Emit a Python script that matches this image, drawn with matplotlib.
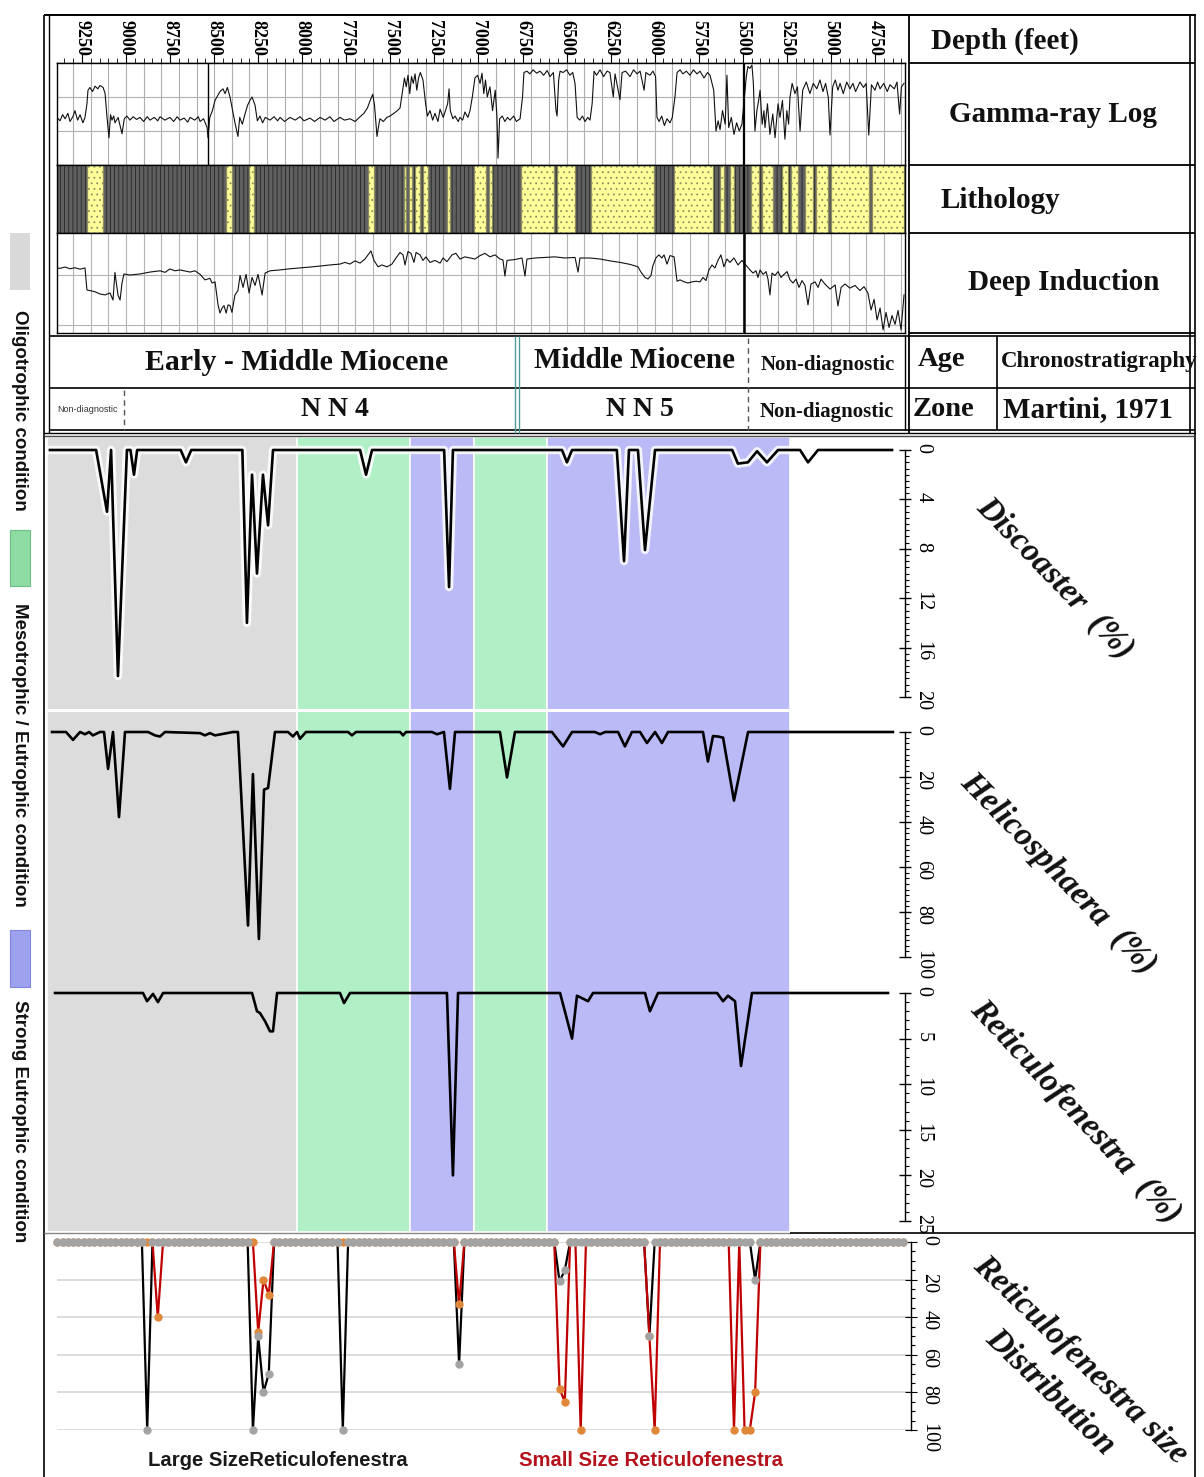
import numpy as np
import matplotlib
matplotlib.use("Agg")
import matplotlib.pyplot as plt
from matplotlib import font_manager as fm
from matplotlib.ticker import MultipleLocator, LogLocator, NullFormatter
from matplotlib.patches import Rectangle

# ---------------------------------------------------------------- data
depth_ticks = [9250, 9000, 8750, 8500, 8250, 8000, 7750, 7500, 7250, 7000,
               6750, 6500, 6250, 6000, 5750, 5500, 5250, 5000, 4750]

# gamma-ray log (depth ft, API)
gamma_log = [
    (9392, 80), (9375, 85), (9360, 76), (9346, 82), (9330, 74), (9318, 86), (9300, 78), (9290, 70),
    (9275, 84), (9261, 76), (9245, 88), (9233, 80), (9222, 60), (9216, 40), (9205, 36), (9190, 42),
    (9176, 34), (9160, 38), (9148, 33), (9130, 36), (9119, 45), (9108, 80), (9097, 110), (9088, 76),
    (9080, 84), (9070, 78), (9063, 88), (9045, 80), (9023, 104), (9010, 82), (8995, 78), (8978, 84),
    (8960, 79), (8940, 83), (8921, 80), (8900, 86), (8880, 79), (8864, 84), (8840, 80), (8820, 85),
    (8807, 79), (8780, 84), (8751, 80), (8730, 86), (8710, 79), (8694, 84), (8670, 81), (8650, 87),
    (8637, 80), (8610, 84), (8590, 79), (8580, 86), (8560, 82), (8540, 95), (8535, 110), (8525, 80),
    (8510, 70), (8495, 55), (8480, 48), (8467, 42), (8450, 38), (8438, 45), (8425, 36), (8410, 50),
    (8395, 70), (8382, 88), (8365, 108), (8355, 80), (8340, 90), (8325, 75), (8310, 62), (8297, 55),
    (8285, 50), (8268, 62), (8255, 85), (8240, 78), (8225, 88), (8210, 80), (8183, 84), (8160, 79),
    (8140, 85), (8126, 80), (8100, 86), (8070, 80), (8040, 84), (8013, 79), (7990, 85), (7956, 81),
    (7930, 86), (7899, 80), (7870, 84), (7843, 79), (7820, 86), (7786, 80), (7760, 84), (7729, 82),
    (7700, 86), (7672, 79), (7650, 74), (7630, 66), (7616, 56), (7600, 46), (7590, 62), (7576, 108),
    (7565, 90), (7559, 82), (7540, 86), (7520, 80), (7502, 78), (7480, 74), (7460, 70), (7445, 66),
    (7430, 40), (7420, 22), (7410, 35), (7400, 18), (7390, 45), (7380, 20), (7370, 30), (7360, 16),
    (7350, 40), (7340, 22), (7330, 14), (7315, 25), (7300, 60), (7290, 78), (7275, 70), (7260, 84),
    (7247, 74), (7230, 86), (7218, 68), (7200, 80), (7190, 72), (7175, 60), (7167, 38), (7160, 70),
    (7145, 82), (7133, 78), (7115, 86), (7105, 80), (7090, 84), (7077, 72), (7060, 80), (7048, 70),
    (7035, 50), (7020, 22), (7005, 18), (6991, 30), (6980, 15), (6970, 45), (6960, 25), (6950, 50),
    (6935, 35), (6920, 70), (6905, 40), (6895, 80), (6889, 140), (6880, 82), (6865, 78), (6850, 86),
    (6835, 80), (6821, 84), (6800, 78), (6785, 86), (6764, 82), (6750, 50), (6742, 14), (6725, 12),
    (6708, 16), (6690, 10), (6670, 15), (6651, 12), (6630, 18), (6610, 11), (6594, 20), (6575, 14),
    (6560, 70), (6554, 78), (6545, 25), (6537, 12), (6520, 14), (6500, 10), (6481, 18), (6465, 14),
    (6452, 30), (6440, 80), (6425, 84), (6410, 78), (6395, 86), (6380, 80), (6367, 84), (6355, 60),
    (6344, 12), (6330, 18), (6310, 10), (6290, 20), (6270, 12), (6254, 14), (6235, 50), (6225, 16),
    (6197, 54), (6185, 14), (6165, 12), (6140, 20), (6120, 10), (6100, 16), (6083, 12), (6060, 40),
    (6050, 14), (6027, 18), (6010, 12), (5995, 20), (5987, 80), (5975, 86), (5960, 78), (5945, 92),
    (5930, 82), (5913, 88), (5900, 80), (5885, 50), (5873, 14), (5856, 10), (5840, 16), (5820, 12),
    (5800, 18), (5780, 10), (5760, 16), (5743, 12), (5720, 22), (5700, 14), (5686, 18), (5665, 40),
    (5652, 100), (5640, 85), (5629, 98), (5615, 70), (5600, 90), (5590, 18), (5580, 95), (5565, 80),
    (5550, 105), (5535, 88), (5520, 100), (5505, 90), (5480, 20), (5471, 5), (5460, 8), (5448, 3),
    (5440, 30), (5431, 100), (5420, 70), (5410, 55), (5402, 40), (5390, 90), (5380, 70), (5374, 95),
    (5360, 60), (5346, 105), (5330, 75), (5317, 110), (5300, 60), (5289, 80), (5275, 55), (5261, 112),
    (5250, 70), (5240, 90), (5232, 50), (5220, 30), (5204, 45), (5190, 35), (5175, 100), (5160, 40),
    (5140, 28), (5119, 45), (5100, 30), (5080, 38), (5062, 25), (5045, 42), (5030, 30), (5015, 50),
    (5005, 106), (4990, 35), (4975, 25), (4960, 40), (4948, 30), (4930, 45), (4910, 28), (4892, 38),
    (4875, 30), (4860, 42), (4835, 28), (4815, 36), (4800, 30), (4785, 106), (4770, 32), (4750, 40),
    (4735, 28), (4721, 38), (4700, 30), (4680, 42), (4665, 32), (4640, 38), (4625, 28), (4610, 75),
    (4600, 35), (4585, 30)]

# lithology: sand beds (top/base depth, ft); the rest is shale
sand_top = [9222, 8434, 8303, 7629, 7425, 7396, 7362, 7317, 7181, 7028, 6943, 6756, 6552,
            6359, 5888, 5628, 5571, 5452, 5389, 5276, 5225, 5146, 5083, 4998, 4766]
sand_base = [9131, 8400, 8275, 7595, 7413, 7379, 7334, 7289, 7164, 6960, 6926, 6569, 6450,
             6002, 5667, 5605, 5548, 5406, 5327, 5242, 5185, 5100, 5015, 4783, 4584]

# deep induction (depth ft, ohm.m)
induction_log = [
    (9392, 0.2), (9390, 5.0), (9375, 5.2), (9346, 4.6), (9318, 5.4), (9290, 4.9), (9261, 5.6), (9233, 5.0),
    (9222, 38), (9205, 40), (9176, 45), (9148, 55), (9119, 60), (9091, 50), (9074, 96), (9063, 7.5),
    (9046, 60), (9034, 96), (9023, 20), (9012, 8.7), (8978, 9.6), (8921, 8.7), (8864, 7.3), (8807, 6.5),
    (8779, 7.5), (8751, 5.5), (8722, 6.5), (8694, 6.0), (8637, 7.3), (8609, 6.5), (8580, 9.0), (8552, 15),
    (8524, 13), (8512, 20), (8495, 18), (8478, 150), (8467, 317), (8455, 200), (8444, 160), (8432, 320),
    (8421, 150), (8410, 160), (8399, 300), (8382, 60), (8365, 40), (8353, 10), (8336, 30), (8319, 9),
    (8302, 50), (8285, 12), (8268, 25), (8251, 9), (8228, 60), (8211, 8), (8183, 6.5), (8126, 6.0),
    (8070, 5.4), (8013, 5.0), (7956, 4.6), (7899, 4.2), (7843, 3.8), (7786, 3.5), (7758, 3.0), (7729, 3.5),
    (7701, 2.6), (7672, 3.2), (7644, 2.2), (7627, 1.5), (7610, 1.05), (7593, 2.5), (7570, 4.5), (7548, 3.8),
    (7519, 4.5), (7491, 3.5), (7468, 2.0), (7445, 1.2), (7428, 1.5), (7417, 3.8), (7400, 1.1), (7383, 1.3),
    (7366, 3.0), (7354, 1.2), (7332, 1.5), (7315, 2.5), (7298, 1.8), (7275, 3.0), (7247, 2.5), (7218, 3.2),
    (7201, 2.0), (7179, 2.8), (7150, 1.5), (7128, 1.3), (7105, 2.2), (7077, 1.8), (7048, 2.0), (7020, 2.2),
    (6991, 1.6), (6963, 1.3), (6935, 1.8), (6906, 1.5), (6878, 2.2), (6861, 2.4), (6850, 10.5), (6838, 2.5),
    (6793, 2.3), (6753, 2.0), (6736, 10.5), (6725, 2.2), (6679, 2.0), (6623, 1.9), (6566, 1.8), (6509, 2.0),
    (6452, 1.9), (6435, 7.3), (6424, 2.0), (6367, 2.0), (6310, 2.2), (6254, 2.6), (6197, 3.0), (6140, 3.6),
    (6095, 4.5), (6078, 7.3), (6055, 12), (6038, 13.8), (6021, 10), (6010, 4), (5993, 2.0), (5976, 1.5),
    (5959, 2.0), (5947, 1.5), (5930, 3.5), (5913, 1.6), (5890, 1.8), (5873, 17), (5856, 15), (5833, 18),
    (5811, 20), (5788, 18), (5765, 17), (5743, 18), (5726, 12), (5709, 16), (5692, 6), (5675, 3.8),
    (5658, 5), (5641, 2.5), (5624, 1.5), (5607, 4.5), (5590, 2.2), (5573, 3.0), (5550, 2.0), (5527, 3.8),
    (5505, 2.5), (5459, 6.0), (5442, 8), (5425, 6.5), (5414, 12), (5402, 6.0), (5385, 9), (5368, 7),
    (5357, 14), (5346, 60), (5334, 8), (5317, 10), (5300, 7), (5283, 12), (5266, 9), (5249, 7),
    (5232, 15), (5215, 20), (5198, 14), (5181, 30), (5164, 16), (5147, 25), (5130, 150), (5113, 22),
    (5090, 18), (5073, 30), (5056, 14), (5034, 22), (5005, 35), (4976, 24), (4960, 166), (4942, 30),
    (4920, 22), (4892, 32), (4863, 25), (4835, 40), (4812, 28), (4790, 50), (4772, 240), (4755, 90),
    (4738, 600), (4721, 200), (4704, 1500), (4687, 300), (4670, 1200), (4653, 400), (4636, 900),
    (4619, 250), (4602, 1500), (4585, 60)]

# palaeo-environment intervals (depth ft)
cond_top = [9449, 8030, 7389, 7025, 6611]
cond_base = [8030, 7389, 7025, 6611, 5232]
cond_kind = ["oligo", "meso", "strong", "meso", "strong"]

# nannofossil abundance curves (depth ft, %)
discoaster = [
    (9432, 0), (9170, 0), (9108, 5.0), (9085, 0), (9046, 18.3), (8995, 0), (8975, 0), (8955, 2.0),
    (8937, 0), (8690, 0), (8660, 1.0), (8630, 0), (8340, 0), (8314, 14.0), (8285, 2.0), (8257, 10.0),
    (8223, 2.0), (8194, 6.1), (8166, 0), (7672, 0), (7638, 2.0), (7604, 0), (7195, 0), (7167, 11.1),
    (7145, 0), (6526, 0), (6498, 1.0), (6469, 0), (6215, 0), (6174, 9.0), (6146, 0), (6095, 0),
    (6055, 8.1), (5998, 0), (5560, 0), (5528, 1.1), (5471, 1.0), (5419, 0.1), (5363, 1.0), (5300, 0),
    (5175, 0), (5130, 1.0), (5073, 0), (4653, 0)]

helicosphaera = [
    (9420, 0), (9341, 0), (9301, 3.5), (9261, 0), (9233, 1.0), (9210, 0), (9188, 1.5), (9148, 0),
    (9125, 0), (9102, 16.4), (9074, 0), (9040, 37.8), (9006, 0), (8875, 0), (8836, 1.5), (8807, 2.0),
    (8779, 0), (8580, 0.5), (8552, 1.5), (8524, 0.5), (8495, 1.5), (8393, 0), (8365, 0), (8308, 86),
    (8280, 18.7), (8246, 92), (8217, 25.6), (8194, 24.9), (8155, 0), (8081, 0), (8053, 2.0), (8030, 0),
    (8013, 3.0), (7979, 0), (7740, 0), (7718, 1.5), (7695, 0), (7445, 0), (7428, 1.5), (7411, 0),
    (7264, 0), (7235, 1.0), (7196, 0), (7162, 25.3), (7133, 0), (6878, 0), (6838, 20.2), (6793, 0),
    (6583, 0), (6520, 6.4), (6469, 0), (6339, 0), (6310, 1.0), (6282, 0), (6208, 0), (6169, 6.4),
    (6129, 0), (6083, 0), (6044, 4.9), (5998, 0), (5959, 4.9), (5924, 0), (5726, 0), (5698, 13.1),
    (5669, 1.8), (5641, 2.0), (5612, 2.5), (5550, 30.5), (5470, 0), (4648, 0)]

reticulofenestra = [
    (9403, 0), (8904, 0), (8881, 0.9), (8847, 0.1), (8819, 1.0), (8790, 0), (8285, 0), (8257, 2.0),
    (8240, 2.2), (8211, 3.1), (8183, 4.2), (8166, 4.2), (8143, 0), (7786, 0), (7763, 1.1), (7729, 0),
    (7179, 0), (7145, 20.0), (7116, 0), (6537, 0), (6469, 5.0), (6441, 0.3), (6378, 0.9), (6350, 0),
    (6055, 0), (6027, 2.0), (5981, 0), (5646, 0), (5612, 0.9), (5584, 0.3), (5544, 0.9), (5510, 8.0),
    (5448, 0), (4676, 0)]

# Reticulofenestra size distribution (samples every 30 ft; non-zero %)
size_samples = np.arange(9390, 4560, -30)
large_size_nonzero = {8880: 100, 8280: 100, 8250: 50, 8220: 80, 8190: 70, 7770: 100, 7110: 65,
                      6540: 21, 6510: 15, 6030: 50, 5430: 20}
small_size_nonzero = {8820: 40, 8250: 48, 8220: 20, 8190: 28, 7110: 33, 6540: 78, 6510: 85,
                      6420: 100, 6030: 50, 6000: 100, 5550: 100, 5490: 100, 5460: 100, 5430: 80}

# ---------------------------------------------------------------- style
names = {f.name for f in fm.fontManager.ttflist}
SERIF = "Liberation Serif"
SANS = "Liberation Sans"
NARROW = "Liberation Sans Narrow" if "Liberation Sans Narrow" in names else "Liberation Sans"
plt.rcParams["hatch.linewidth"] = 0.6
plt.rcParams["axes.linewidth"] = 1.0

C_GRAY, C_GREEN, C_BLUE = "#dcdcdc", "#b1f0c6", "#babaf7"
cond_color = {"oligo": C_GRAY, "meso": C_GREEN, "strong": C_BLUE}

W, H = 1204, 1477
fig = plt.figure(figsize=(W / 100, H / 100), dpi=100)
fig.patch.set_facecolor("white")


def D(x):
    """pixel column -> depth (ft) of the common depth scale"""
    return 9250 - (x - 82) * 5.675


def add_ax(x0, y0, x1, y1, z=1):
    ax = fig.add_axes([x0 / W, 1 - y1 / H, (x1 - x0) / W, (y1 - y0) / H], zorder=z)
    ax.set_xlim(D(x0), D(x1))
    return ax


def clean(ax):
    ax.tick_params(length=0, labelbottom=False, labelleft=False)


# ---------------- depth header
axh = add_ax(57, 15, 905, 63)
for s in ["top", "left", "right"]:
    axh.spines[s].set_visible(False)
axh.set_yticks([])
axh.xaxis.set_major_locator(MultipleLocator(250))
axh.xaxis.set_minor_locator(MultipleLocator(50))
axh.tick_params(axis="x", which="major", direction="in", length=7, labelbottom=False)
axh.tick_params(axis="x", which="minor", direction="in", length=3.5)
for d in depth_ticks:
    axh.text(d, 0.9, f"{d}", transform=axh.get_xaxis_transform(), rotation=270,
             ha="center", va="top", fontsize=13, fontfamily=SERIF, fontweight="bold")

# ---------------- gamma ray
axg = add_ax(57, 63, 905, 165)
gd, gv = zip(*gamma_log)
axg.plot(gd, gv, color="#111111", lw=0.8)
axg.set_ylim(150, 0)
axg.set_yticks([50, 100])
axg.xaxis.set_major_locator(MultipleLocator(100))
axg.grid(True, color="#b0b0b0", lw=0.8)
axg.axvline(8535, color="black", lw=1.0)
axg.axvline(5495, color="black", lw=1.6)
clean(axg)

# ---------------- lithology
axl = add_ax(57, 165, 905, 233)
axl.axvspan(D(57), D(905), facecolor="#606060", edgecolor="#262626", hatch="||||", lw=0)
for t, b in zip(sand_top, sand_base):
    axl.axvspan(t, b, facecolor="#ffff99", edgecolor="#8c8c60", hatch="...", lw=0.9)
axl.axvline(5495, color="black", lw=1.6)
axl.set_yticks([])
clean(axl)

# ---------------- deep induction
axi = add_ax(57, 233, 905, 333)
axi.set_yscale("log")
idp, ivl = zip(*induction_log)
axi.plot(idp, ivl, color="#111111", lw=0.8)
axi.set_ylim(2000, 0.2)
axi.yaxis.set_minor_locator(LogLocator(subs=range(2, 10)))
axi.yaxis.set_minor_formatter(NullFormatter())
axi.xaxis.set_major_locator(MultipleLocator(100))
axi.grid(True, which="both", color="#b4b4b4", lw=0.8)
axi.axvline(5495, color="black", lw=1.8)
axi.tick_params(which="both", length=0, labelbottom=False, labelleft=False)

# ---------------- lower background (environment shading)
axb = add_ax(47, 437, 905, 1232, z=0)
axb.set_ylim(1232, 437)
for t, b, k in zip(cond_top, cond_base, cond_kind):
    axb.axvspan(t, b, facecolor=cond_color[k], edgecolor="white", lw=1.2)
axb.hlines(710, cond_top[0], cond_base[-1], color="white", lw=2.2)
axb.axis("off")


def curve_axis(y0, y1, top, major, minor, data, halo=False, x1=905):
    ax = add_ax(47, y0, x1, y1, z=2)
    ax.patch.set_alpha(0)
    for s in ["top", "left", "bottom"]:
        ax.spines[s].set_visible(False)
    ax.set_ylim(top, 0)
    ax.set_xticks([])
    ax.yaxis.tick_right()
    ax.yaxis.set_major_locator(MultipleLocator(major))
    ax.yaxis.set_minor_locator(MultipleLocator(minor))
    ax.tick_params(axis="y", which="major", direction="inout", length=8, width=1,
                   labelsize=14.5, pad=2, labelrotation=270)
    ax.tick_params(axis="y", which="minor", direction="out", length=3, width=0.8)
    for lb in ax.get_yticklabels():
        lb.set_fontfamily(SERIF)
    if data is not None:
        d, v = zip(*data)
        if halo:
            ax.plot(d, v, color="white", lw=6, alpha=0.85, clip_on=False, zorder=2,
                    solid_joinstyle="round")
        ax.plot(d, v, color="black", lw=1.9, clip_on=False, zorder=3)
    return ax


curve_axis(450, 697, 20, 4, 0.5, discoaster, halo=True)
curve_axis(732, 957, 100, 20, 2.5, helicosphaera)
curve_axis(993, 1221, 25, 5, 1, reticulofenestra)

# ---------------- size distribution
axs = add_ax(57, 1242, 911, 1430, z=2)
axs.patch.set_alpha(0)
for s in ["top", "left", "bottom"]:
    axs.spines[s].set_visible(False)
axs.set_ylim(100, 0)
axs.set_xticks([])
axs.yaxis.tick_right()
axs.yaxis.set_major_locator(MultipleLocator(20))
axs.yaxis.set_minor_locator(MultipleLocator(5))
axs.tick_params(axis="y", which="major", direction="inout", length=8, labelsize=14.5, pad=2,
                labelrotation=270)
axs.tick_params(axis="y", which="minor", direction="out", length=3, width=0.8)
for lb in axs.get_yticklabels():
    lb.set_fontfamily(SERIF)
axs.yaxis.grid(True, color="#d9d9d9", lw=1.3)
large = [large_size_nonzero.get(int(d), 0) for d in size_samples]
small = [small_size_nonzero.get(int(d), 0) for d in size_samples]
axs.plot(size_samples, large, color="black", lw=1.6, zorder=3, clip_on=False)
axs.plot(size_samples, small, color="#c00000", lw=1.6, zorder=4, clip_on=False)
axs.plot(size_samples, small, ls="none", marker="o", ms=5, color="#e0883a", zorder=5, clip_on=False)
axs.plot(size_samples, large, ls="none", marker="o", ms=5, color="#a3a3a3", zorder=6, clip_on=False)

# ---------------- overlay: frames and texts (pixel coordinates)
ov = fig.add_axes([0, 0, 1, 1], zorder=20)
ov.set_xlim(0, W)
ov.set_ylim(H, 0)
ov.axis("off")
ov.patch.set_alpha(0)


def hl(y, x0, x1, c="black", lw=1.2, **kw):
    ov.plot([x0, x1], [y, y], color=c, lw=lw, solid_capstyle="butt", **kw)


def vl(x, y0, y1, c="black", lw=1.2, **kw):
    ov.plot([x, x], [y0, y1], color=c, lw=lw, solid_capstyle="butt", **kw)


hl(15, 44, 1196, lw=1.4)
vl(44, 15, 1477, lw=1.2)
vl(49, 15, 433, lw=1.0)
vl(909, 15, 433, lw=1.3)
vl(1190, 15, 433, lw=1.2)
vl(1195, 15, 1477, lw=1.2)
for y in (63, 165, 233, 333):
    hl(y, 909, 1195, lw=1.3)
hl(336, 49, 1195, lw=1.2)
hl(388, 49, 1195, lw=1.2)
hl(430, 49, 1195, lw=1.2)
hl(433, 44, 1195, lw=1.0)
vl(997, 336, 430, lw=1.2)
vl(905, 336, 430, lw=1.0)
hl(436, 44, 1195, c="#444444", lw=1.0)
hl(1233, 44, 790, c="#888888", lw=1.0)
hl(1233, 790, 1195, c="black", lw=1.2)
# zone boundaries in age / zone rows
vl(124, 390, 430, c="#555555", lw=1.0, ls=(0, (4, 3)))
vl(748, 338, 430, c="#555555", lw=1.0, ls=(0, (4, 3)))
vl(515, 336, 433, c="#4f9a9a", lw=1.0)
vl(519, 336, 433, c="#4f9a9a", lw=1.0)

serif_b = dict(fontfamily=SERIF, fontweight="bold", color="#111111")
ov.text(1005, 41, "Depth (feet)", ha="center", va="center", fontsize=21, **serif_b)
ov.text(1053, 115, "Gamma-ray Log", ha="center", va="center", fontsize=21, **serif_b)
ov.text(1000, 201, "Lithology", ha="center", va="center", fontsize=21, **serif_b)
ov.text(1064, 283, "Deep Induction", ha="center", va="center", fontsize=21, **serif_b)

ov.text(297, 362, "Early - Middle Miocene", ha="center", va="center", fontsize=21.5, **serif_b)
ov.text(634, 361, "Middle Miocene", ha="center", va="center", fontsize=21, **serif_b)
ov.text(828, 365, "Non-diagnostic", ha="center", va="center", fontsize=15, **serif_b)
ov.text(942, 360, "Age", ha="center", va="center", fontsize=20.5, **serif_b)
ov.text(1001, 361, "Chronostratigraphy", ha="left", va="center", fontsize=16.5, **serif_b)
ov.text(335, 410, "N N 4", ha="center", va="center", fontsize=20, **serif_b)
ov.text(640, 409, "N N 5", ha="center", va="center", fontsize=20, **serif_b)
ov.text(827, 412, "Non-diagnostic", ha="center", va="center", fontsize=15, **serif_b)
ov.text(944, 409, "Zone", ha="center", va="center", fontsize=20.5, **serif_b)
ov.text(1003, 410, "Martini, 1971", ha="left", va="center", fontsize=21, **serif_b)
ov.text(88, 410, "Non-diagnostic", ha="center", va="center", fontsize=6.5,
        fontfamily=SANS, color="#333333")

# diagonal panel titles
title_kw = dict(fontfamily=SERIF, fontweight="bold", fontstyle="italic", color="#111111",
                ha="center", va="center", rotation_mode="anchor")
ov.text(1055, 578, "Discoaster  (%)", rotation=-46, fontsize=24, **title_kw)
ov.text(1058, 873, "Helicosphaera  (%)", rotation=-46, fontsize=24, **title_kw)
ov.text(1076, 1112, "Reticulofenestra  (%)", rotation=-47, fontsize=24, **title_kw)
ov.text(1080, 1360, "Reticulofenestra size", rotation=-44, fontsize=24, **title_kw)
ov.text(1050, 1392, "Distribution", rotation=-44, fontsize=24, **title_kw)

# left legend
leg_kw = dict(fontfamily=SANS, fontweight="bold", fontsize=13.5, rotation=270,
              ha="center", va="center", color="#111111")
ov.add_patch(Rectangle((10, 233), 20, 57, facecolor="#d9d9d9", edgecolor="none"))
ov.text(19, 410, "Oligotrophic condition", **leg_kw)
ov.add_patch(Rectangle((10, 530), 20, 56, facecolor="#8edba4", edgecolor="#6cbf84", lw=0.8))
ov.text(19, 755, "Mesotrophic / Eutrophic condition", **leg_kw)
ov.add_patch(Rectangle((10, 930), 20, 57, facecolor="#9ea2ee", edgecolor="#7f84dc", lw=0.8))
ov.text(19, 1121, "Strong Eutrophic condition", **leg_kw)

# size legend texts
ov.text(278, 1460, "Large SizeReticulofenestra", ha="center", va="center", fontsize=14.6,
        fontfamily=NARROW, fontweight="bold", color="#1a1a1a")
ov.text(651, 1460, "Small Size Reticulofenestra", ha="center", va="center", fontsize=14.6,
        fontfamily=NARROW, fontweight="bold", color="#b5121b")

fig.savefig("out.png", dpi=100)
